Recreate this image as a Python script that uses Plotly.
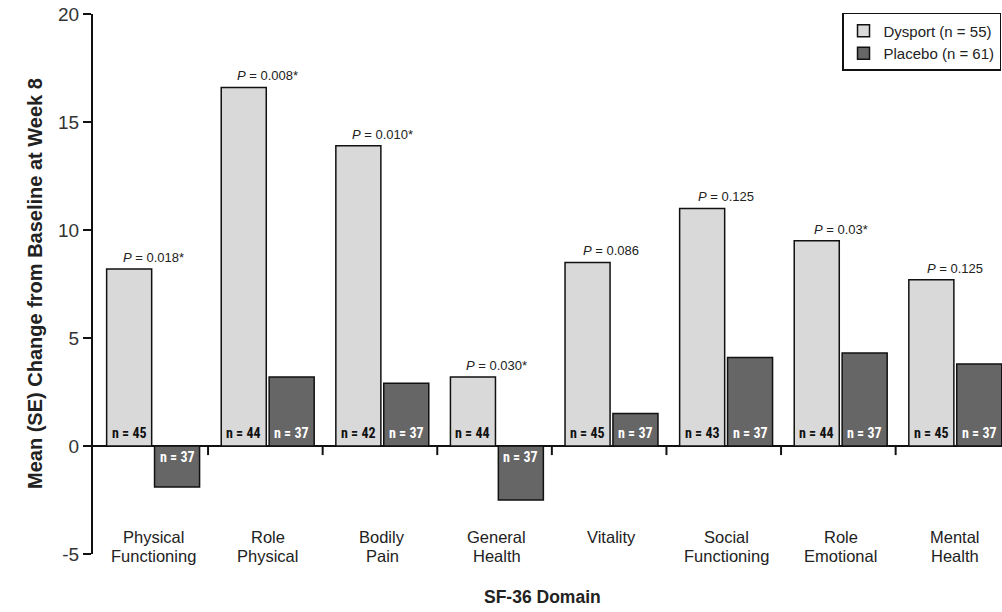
import plotly.graph_objects as go

domains_line1 = ["Physical", "Role", "Bodily", "General", "Vitality", "Social", "Role", "Mental"]
domains_line2 = ["Functioning", "Physical", "Pain", "Health", "", "Functioning", "Emotional", "Health"]
dysport_vals = [8.2, 16.6, 13.9, 3.2, 8.5, 11.0, 9.5, 7.7]
placebo_vals = [-1.9, 3.2, 2.9, -2.5, 1.5, 4.1, 4.3, 3.8]
dysport_n = [45, 44, 42, 44, 45, 43, 44, 45]
placebo_n = [37, 37, 37, 37, 37, 37, 37, 37]
p_values = ["0.018*", "0.008*", "0.010*", "0.030*", "0.086", "0.125", "0.03*", "0.125"]
y_ticks = [-5, 0, 5, 10, 15, 20]

xs = list(range(len(domains_line1)))
narrow = "Liberation Sans Narrow, Arial Narrow, Roboto Condensed, Liberation Sans, Arial"
sans = "Liberation Sans, Arial, Helvetica"

BW = 0.393
OFF_D = -0.405
OFF_P = 0.013

fig = go.Figure()
fig.add_trace(go.Bar(
    x=xs, y=dysport_vals, name="Dysport (n = 55)",
    width=BW, offset=OFF_D,
    marker=dict(color="#d9d9d9", line=dict(color="#111111", width=1.5)),
))
fig.add_trace(go.Bar(
    x=xs, y=placebo_vals, name="Placebo (n = 61)",
    width=BW, offset=OFF_P,
    marker=dict(color="#666666", line=dict(color="#111111", width=1.5)),
))

annotations = []
# P-value labels above Dysport bars
for i, (v, p) in enumerate(zip(dysport_vals, p_values)):
    annotations.append(dict(x=i, y=v, xref="x", yref="y", yanchor="bottom", yshift=2,
                            text=f"<i>P</i> = {p}", showarrow=False,
                            font=dict(family=sans, size=13, color="#222222")))
# n labels inside bars near the zero line
for i, (v, n) in enumerate(zip(dysport_vals, dysport_n)):
    annotations.append(dict(x=i + OFF_D + BW / 2, y=0, xref="x", yref="y",
                            yanchor="middle", yshift=13 if v >= 0 else -11,
                            text=f"n = {n}", showarrow=False,
                            font=dict(family=narrow, size=14, color="#111111", weight="bold")))
for i, (v, n) in enumerate(zip(placebo_vals, placebo_n)):
    annotations.append(dict(x=i + OFF_P + BW / 2, y=0, xref="x", yref="y",
                            yanchor="middle", yshift=13 if v >= 0 else -11,
                            text=f"n = {n}", showarrow=False,
                            font=dict(family=narrow, size=14, color="#ffffff", weight="bold")))
# category labels (two lines, tight spacing)
for i, (l1, l2) in enumerate(zip(domains_line1, domains_line2)):
    annotations.append(dict(x=i, y=0.0315, xref="x", yref="paper", yanchor="middle",
                            text=l1, showarrow=False,
                            font=dict(family=sans, size=16.5, color="#222222")))
    if l2:
        annotations.append(dict(x=i, y=-0.0037, xref="x", yref="paper", yanchor="middle",
                                text=l2, showarrow=False,
                                font=dict(family=sans, size=16.5, color="#222222")))
# axis titles
annotations.append(dict(x=0.5, y=-0.0796, xref="paper", yref="paper", yanchor="middle",
                        xanchor="center", xshift=-5,
                        text="<b>SF-36 Domain</b>", showarrow=False,
                        font=dict(family=sans, size=17.5, color="#222222")))
annotations.append(dict(x=-0.0638, y=0.5, xref="paper", yref="paper", yanchor="middle",
                        xanchor="center", textangle=-90,
                        text="<b>Mean (SE) Change from Baseline at Week 8</b>", showarrow=False,
                        font=dict(family=sans, size=20, color="#222222")))

shapes = []
for k in range(len(domains_line1) - 1):
    shapes.append(dict(type="line", xref="x", yref="y", x0=k + 0.48, x1=k + 0.48,
                       y0=0, y1=-0.42, line=dict(color="#111111", width=2)))

fig.update_layout(
    width=1002, height=612,
    margin=dict(l=93, r=0, t=14, b=58, autoexpand=False),
    plot_bgcolor="white", paper_bgcolor="white",
    barmode="group",
    showlegend=True,
    legend=dict(x=0.824, y=1.002, xanchor="left", yanchor="top",
                bordercolor="#111111", borderwidth=1.5, bgcolor="white",
                font=dict(family=sans, size=15, color="#222222"),
                traceorder="normal", itemwidth=30, tracegroupgap=0),
    annotations=annotations,
    shapes=shapes,
    xaxis=dict(range=[-0.524, 7.408], showticklabels=False, ticks="", showgrid=False,
               zeroline=False, showline=False, fixedrange=True),
    yaxis=dict(range=[-5, 20], tickvals=y_ticks, ticktext=[str(t) for t in y_ticks],
               ticks="outside", ticklen=8, tickwidth=2, tickcolor="#111111",
               showline=True, linecolor="#111111", linewidth=2,
               showgrid=False, zeroline=True, zerolinecolor="#111111", zerolinewidth=2,
               tickfont=dict(family=sans, size=19, color="#333333")),
)

fig.write_html("out.html", config={"displayModeBar": False},
               post_script="document.body.style.margin='0';")
